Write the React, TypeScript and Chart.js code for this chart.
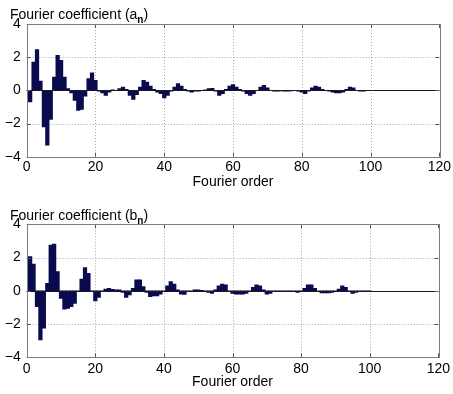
import React, { useEffect, useRef } from 'react';
import { Chart, registerables } from 'chart.js';

Chart.register(...registerables);

// Fourier orders 1..100 (category positions)
const orders: number[] = Array.from({ length: 100 }, (_, i) => i + 1);

// a_n coefficients
const aCoeffs: number[] = [
  -0.7, 1.7, 2.45, 0.55, -2.2, -3.3, -1.75, 0.8, 2.1, 1.8,
  0.8, 0.1, -0.15, -0.6, -1.2, -1.15, -0.35, 0.7, 1.05, 0.6,
  -0.05, -0.15, -0.3, -0.1, 0.02, 0.0, 0.1, 0.2, 0.05, -0.3,
  -0.55, -0.25, 0.2, 0.6, 0.5, 0.25, 0.05, -0.1, -0.2, -0.45,
  -0.3, -0.05, 0.2, 0.4, 0.25, 0.05, -0.05, -0.1, -0.05, -0.05,
  0.0, 0.03, 0.1, 0.12, -0.05, -0.3, -0.2, 0.05, 0.25, 0.35,
  0.2, 0.05, -0.05, -0.2, -0.3, -0.2, 0.0, 0.2, 0.3, 0.15,
  -0.02, -0.05, -0.05, -0.03, -0.05, -0.05, -0.03, -0.02, -0.05, -0.1,
  -0.2, -0.05, 0.15, 0.25, 0.2, 0.05, -0.02, -0.05, -0.1, -0.15,
  -0.15, -0.1, 0.05, 0.2, 0.15, 0.0, -0.05, -0.05, -0.02, 0.0,
];

// b_n coefficients
const bCoeffs: number[] = [
  2.05, 1.6, -0.95, -2.95, -2.25, 0.45, 2.75, 2.8, 1.15, -0.45,
  -1.1, -1.05, -0.95, -0.75, -0.05, 0.7, 1.4, 1.05, 0.0, -0.6,
  -0.4, -0.05, 0.1, 0.15, 0.08, 0.05, 0.05, -0.1, -0.4, -0.25,
  0.15, 0.65, 0.65, 0.25, -0.1, -0.35, -0.3, -0.3, -0.2, -0.05,
  0.3, 0.55, 0.4, 0.05, -0.2, -0.22, -0.05, 0.0, 0.05, 0.05,
  0.02, -0.05, -0.1, -0.15, 0.05, 0.3, 0.4, 0.35, 0.0, -0.15,
  -0.2, -0.2, -0.2, -0.15, -0.05, 0.2, 0.35, 0.3, 0.05, -0.2,
  -0.15, -0.05, -0.03, -0.03, -0.03, -0.03, -0.05, -0.05, -0.1, -0.05,
  0.15, 0.35, 0.35, 0.15, -0.05, -0.12, -0.12, -0.12, -0.1, -0.05,
  0.1, 0.3, 0.2, 0.0, -0.15, -0.1, -0.05, -0.05, -0.03, -0.03,
];

const xTickValues: number[] = [0, 20, 40, 60, 80, 100, 120];
const yTickValues: number[] = [-4, -2, 0, 2, 4];
const xAxisTitle = 'Fourier order';
const titleMain = 'Fourier coefficient (';
const titleClose = ')';
const subscript = 'n';

const FONT = "'Liberation Sans', Arial, sans-serif";

const matlabAxes = {
  id: 'matlabAxes',
  beforeDatasetsDraw(chart: any) {
    const { ctx, chartArea, scales } = chart;
    const { left, right, top, bottom } = chartArea;
    const x = scales.x;
    const y = scales.y;
    ctx.save();
    ctx.strokeStyle = '#a8a8a8';
    ctx.lineWidth = 1;
    ctx.setLineDash([1, 2]);
    xTickValues.forEach((v) => {
      if (v <= x.min || v >= x.max) return;
      const px = Math.round(x.getPixelForValue(v)) + 0.5;
      ctx.beginPath();
      ctx.moveTo(px, top);
      ctx.lineTo(px, bottom);
      ctx.stroke();
    });
    yTickValues.forEach((v) => {
      if (v <= y.min || v >= y.max) return;
      const py = Math.round(y.getPixelForValue(v)) + 0.5;
      ctx.beginPath();
      ctx.moveTo(left, py);
      ctx.lineTo(right, py);
      ctx.stroke();
    });
    ctx.restore();
  },
  afterDatasetsDraw(chart: any) {
    const { ctx, chartArea, scales } = chart;
    const { left, right, top, bottom } = chartArea;
    const x = scales.x;
    const y = scales.y;
    ctx.save();
    // zero baseline
    const pz = Math.round(y.getPixelForValue(0)) + 0.5;
    ctx.strokeStyle = '#1a1a1a';
    ctx.lineWidth = 1;
    ctx.beginPath();
    ctx.moveTo(left, pz);
    ctx.lineTo(right, pz);
    ctx.stroke();
    // inner tick marks
    ctx.strokeStyle = '#555';
    const tl = 4;
    xTickValues.forEach((v) => {
      const px = Math.round(x.getPixelForValue(v)) + 0.5;
      ctx.beginPath();
      ctx.moveTo(px, bottom);
      ctx.lineTo(px, bottom - tl);
      ctx.moveTo(px, top);
      ctx.lineTo(px, top + tl);
      ctx.stroke();
    });
    yTickValues.forEach((v) => {
      const py = Math.round(y.getPixelForValue(v)) + 0.5;
      ctx.beginPath();
      ctx.moveTo(left, py);
      ctx.lineTo(left + tl, py);
      ctx.moveTo(right, py);
      ctx.lineTo(right - tl, py);
      ctx.stroke();
    });
    // box
    ctx.strokeStyle = '#7c7c7c';
    ctx.strokeRect(Math.round(left) + 0.5, Math.round(top) + 0.5, Math.round(right - left), Math.round(bottom - top));
    ctx.restore();
  },
  afterDraw(chart: any, _args: any, opts: any) {
    const { ctx } = chart;
    ctx.save();
    ctx.fillStyle = '#000';
    ctx.textBaseline = 'alphabetic';
    ctx.textAlign = 'left';
    let xPos = 10;
    const base = opts.baseline;
    ctx.font = `14px ${FONT}`;
    const main = titleMain + opts.letter;
    ctx.fillText(main, xPos, base);
    xPos += ctx.measureText(main).width;
    ctx.font = `bold 10px ${FONT}`;
    ctx.fillText(subscript, xPos, base + 4);
    xPos += ctx.measureText(subscript).width;
    ctx.font = `14px ${FONT}`;
    ctx.fillText(titleClose, xPos, base);
    ctx.restore();
  },
};

type Props = {
  values: number[];
  letter: string;
  height: number;
  padTop: number;
  axisHeight: number;
  titleBaseline: number;
  xTitlePad: number;
  tickPad: number;
};

function CoeffChart({ values, letter, height, padTop, axisHeight, titleBaseline, xTitlePad, tickPad }: Props) {
  const ref = useRef<HTMLCanvasElement | null>(null);
  useEffect(() => {
    if (!ref.current) return;
    const chart = new Chart(ref.current, {
      type: 'bar',
      data: {
        datasets: [
          {
            data: orders.map((n, i) => ({ x: n, y: values[i] })),
            backgroundColor: '#0a0a4e',
            borderWidth: 0,
            barPercentage: 1,
            categoryPercentage: 1,
            inflateAmount: 0.4,
          } as any,
        ],
      },
      plugins: [matlabAxes as any],
      options: {
        animation: false,
        responsive: false,
        maintainAspectRatio: false,
        devicePixelRatio: 1,
        layout: { padding: { top: padTop, right: 10.5, left: 0, bottom: 0 } },
        plugins: {
          legend: { display: false },
          tooltip: { enabled: false },
          matlabAxes: { letter, baseline: titleBaseline },
        } as any,
        scales: {
          x: {
            type: 'linear',
            min: 0,
            max: 120,
            offset: false,
            afterBuildTicks: (s: any) => {
              s.ticks = xTickValues.map((v) => ({ value: v }));
            },
            afterFit: (s: any) => {
              s.height = axisHeight;
            },
            grid: { display: false, drawTicks: false },
            border: { display: false },
            ticks: {
              padding: tickPad,
              color: '#000',
              font: { family: FONT, size: 14 },
              maxRotation: 0,
              autoSkip: false,
            },
            title: {
              display: true,
              text: xAxisTitle,
              color: '#000',
              font: { family: FONT, size: 14 },
              padding: { top: 0, bottom: xTitlePad },
            },
          },
          y: {
            type: 'linear',
            min: -4,
            max: 4,
            afterBuildTicks: (s: any) => {
              s.ticks = yTickValues.map((v) => ({ value: v }));
            },
            afterFit: (s: any) => {
              s.width = 26.7;
            },
            grid: { display: false, drawTicks: false },
            border: { display: false },
            ticks: {
              padding: 6,
              color: '#000',
              font: { family: FONT, size: 14 },
              callback: (v: any) => (Number(v) < 0 ? '\u2212' + Math.abs(Number(v)) : String(v)),
            },
          },
        },
      } as any,
    });
    return () => chart.destroy();
  }, [values, letter, height, padTop, axisHeight, titleBaseline, xTitlePad, tickPad]);
  return <canvas ref={ref} width={453} height={height} style={{ display: 'block', width: 453, height }} />;
}

export default function App() {
  return (
    <div style={{ position: 'absolute', left: 0, top: 0, width: 453, height: 394, background: '#fff' }}>
      <div style={{ position: 'absolute', left: 0, top: 0 }}>
        <CoeffChart values={aCoeffs} letter="a" height={195} padTop={24} axisHeight={38.3} titleBaseline={18.5} xTitlePad={4.9} tickPad={2} />
      </div>
      <div style={{ position: 'absolute', left: 0, top: 195 }}>
        <CoeffChart values={bCoeffs} letter="b" height={199} padTop={29.3} axisHeight={36.7} titleBaseline={24.5} xTitlePad={3.6} tickPad={3} />
      </div>
    </div>
  );
}
